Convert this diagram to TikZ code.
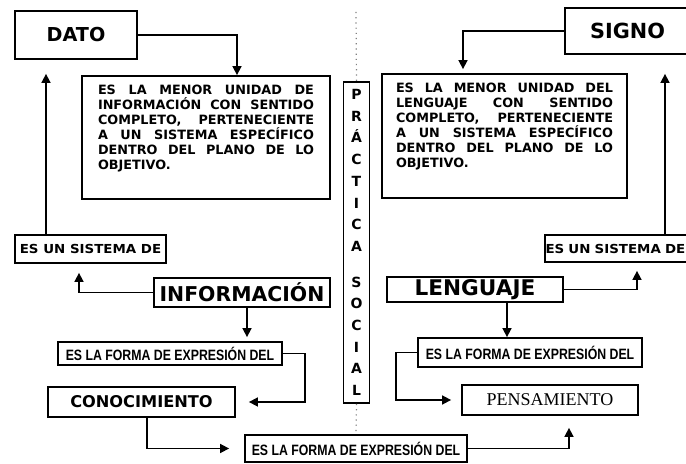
\documentclass[tikz,border=0pt]{standalone}
\usepackage{fontspec}
\setmainfont{Liberation Serif}
\setsansfont{Liberation Sans}
\newfontfamily\negra{DejaVu Sans}
\newfontfamily\negraA{DejaVu Sans}[FakeStretch=1.08]
\newfontfamily\narrowfont{Liberation Sans}[FakeStretch=0.82]
\usetikzlibrary{arrows.meta}

\newcommand{\titulo}{\negra\bfseries\fontsize{9.6}{11}\selectfont}
\newcommand{\tituloB}{\negra\bfseries\fontsize{10.4}{12}\selectfont}
\newcommand{\grande}{\negra\bfseries\fontsize{10.8}{12}\selectfont}
\newcommand{\grandeB}{\negra\bfseries\fontsize{10.2}{12}\selectfont}
\newcommand{\medio}{\negra\bfseries\fontsize{8.1}{9}\selectfont}
\newcommand{\cuerpo}{\negra\bfseries\fontsize{6.4}{7.5}\selectfont}
\newcommand{\ancho}{\negraA\bfseries\fontsize{6.2}{7}\selectfont}
\newcommand{\angosto}{\narrowfont\bfseries\fontsize{7.5}{9}\selectfont}

\tikzset{
  caja/.style={draw, line width=0.9pt, inner sep=0pt, align=center},
  flecha/.style={-{Triangle[length=4.5pt,width=4.5pt]}, line width=0.8pt},
  punteado/.style={gray, dotted, line width=0.6pt}
}

\begin{document}
\begin{tikzpicture}[x=0.5pt,y=-0.5pt]
    \useasboundingbox (0,0) rectangle (686,464);
    % izquierda
    \node[caja, minimum width=61pt, minimum height=24pt, font=\titulo] (dato) at (76,35) {DATO};
    \node[caja, inner xsep=8pt, inner ysep=4.5pt] (def1) at (206,137.5)
        {\parbox[c][52.5pt][t]{108pt}{\cuerpo ES LA MENOR UNIDAD DE\linebreak
        INFORMACIÓN CON SENTIDO\linebreak COMPLETO, PERTENECIENTE\linebreak
        A UN SISTEMA ESPECÍFICO\linebreak DENTRO DEL PLANO DE LO\linebreak OBJETIVO.}};
    \node[caja, minimum width=75.5pt, minimum height=14pt, font=\ancho] (sisL) at (90.5,249) {ES UN SISTEMA DE};
    \node[caja, minimum width=88pt, minimum height=14.5pt, font=\grandeB] (info) at (242,292.5) {INFORMACIÓN};
    \node[caja, minimum width=112pt, minimum height=11.5pt, font=\angosto] (formaL) at (170,353.5) {ES LA FORMA DE EXPRESIÓN DEL};
    \node[caja, minimum width=93.5pt, minimum height=15pt, font=\medio] (conoc) at (141.5,402) {CONOCIMIENTO};
    \node[caja, minimum width=111pt, minimum height=13.5pt, font=\angosto] (formaB) at (356,448.5) {ES LA FORMA DE EXPRESIÓN DEL};
    % centro
    \node[caja, minimum width=13pt, minimum height=160.5pt,
          font=\negra\bfseries\fontsize{7}{10.85}\selectfont] (practica) at (356.5,242.5)
        {P\\R\\Á\\C\\T\\I\\C\\A\\[7pt]S\\O\\C\\I\\A\\L};
    \coordinate (tope) at (356,12);
    \draw[punteado] (tope) -- (practica.north);
    \draw[punteado] (practica.south) -- (formaB.north);
    % derecha
    \node[caja, minimum width=62.5pt, minimum height=23pt, font=\tituloB] (signo) at (627.5,31) {SIGNO};
    \node[caja, inner xsep=7pt, inner ysep=4.5pt] (def2) at (504.5,136)
        {\parbox[c][53pt][t]{108.5pt}{\cuerpo ES LA MENOR UNIDAD DEL\linebreak
        LENGUAJE CON SENTIDO\linebreak COMPLETO, PERTENECIENTE\linebreak
        A UN SISTEMA ESPECÍFICO\linebreak DENTRO DEL PLANO DE LO\linebreak OBJETIVO.}};
    \node[caja, minimum width=75.5pt, minimum height=13.5pt, font=\ancho,
          text width=75pt, align=left] (sisR) at (620.5,248.5) {ES UN SISTEMA DE};
    \node[caja, minimum width=88pt, minimum height=12.5pt, font=\grande] (leng) at (475,289.5) {LENGUAJE};
    \node[caja, minimum width=112pt, minimum height=14.5pt, font=\angosto] (formaR) at (530,352.5) {ES LA FORMA DE EXPRESIÓN DEL};
    \node[caja, minimum width=88pt, minimum height=15pt, font=\rmfamily\fontsize{9}{11}\selectfont] (pens) at (550,400) {PENSAMIENTO};
    % flechas
    \coordinate (xa) at (46,0);
    \coordinate (xb) at (79,0);
    \coordinate (xc) at (247,0);
    \coordinate (xd) at (147,0);
    \coordinate (xe) at (569,0);
    \coordinate (xf) at (463,0);
    \coordinate (xg) at (665,0);
    \coordinate (xh) at (637,0);
    \coordinate (xi) at (507,0);
    \draw[flecha] (dato.east) -| ([xshift=15.5pt]def1.north);
    \draw[flecha, shorten >=7pt] (sisL.north -| xa) -- (dato.south -| xa);
    \draw[flecha, shorten >=4.5pt] (info.west) -| (sisL.south -| xb);
    \draw[flecha, shorten >=2pt] (info.south -| xc) -- (formaL.north -| xc);
    \draw[flecha, shorten >=6.5pt] (formaL.east) -- ++(22,0) |- (conoc.east);
    \draw[flecha, shorten >=7.5pt] (conoc.south -| xd) |- (formaB.west);
    \draw[flecha, shorten >=6pt] (formaB.east) -| (pens.south -| xe);
    \draw[flecha, shorten >=2pt] (signo.west) -| (def2.north -| xf);
    \draw[flecha, shorten >=9.5pt] (sisR.north -| xg) -- (signo.south -| xg);
    \draw[flecha, shorten >=4pt] (leng.east) -| (sisR.south -| xh);
    \draw[flecha] (leng.south -| xi) -- (formaR.north -| xi);
    \draw[flecha, shorten >=5pt] (formaR.west) -- ++(-21,0) |- (pens.west);
\end{tikzpicture}
\end{document}
